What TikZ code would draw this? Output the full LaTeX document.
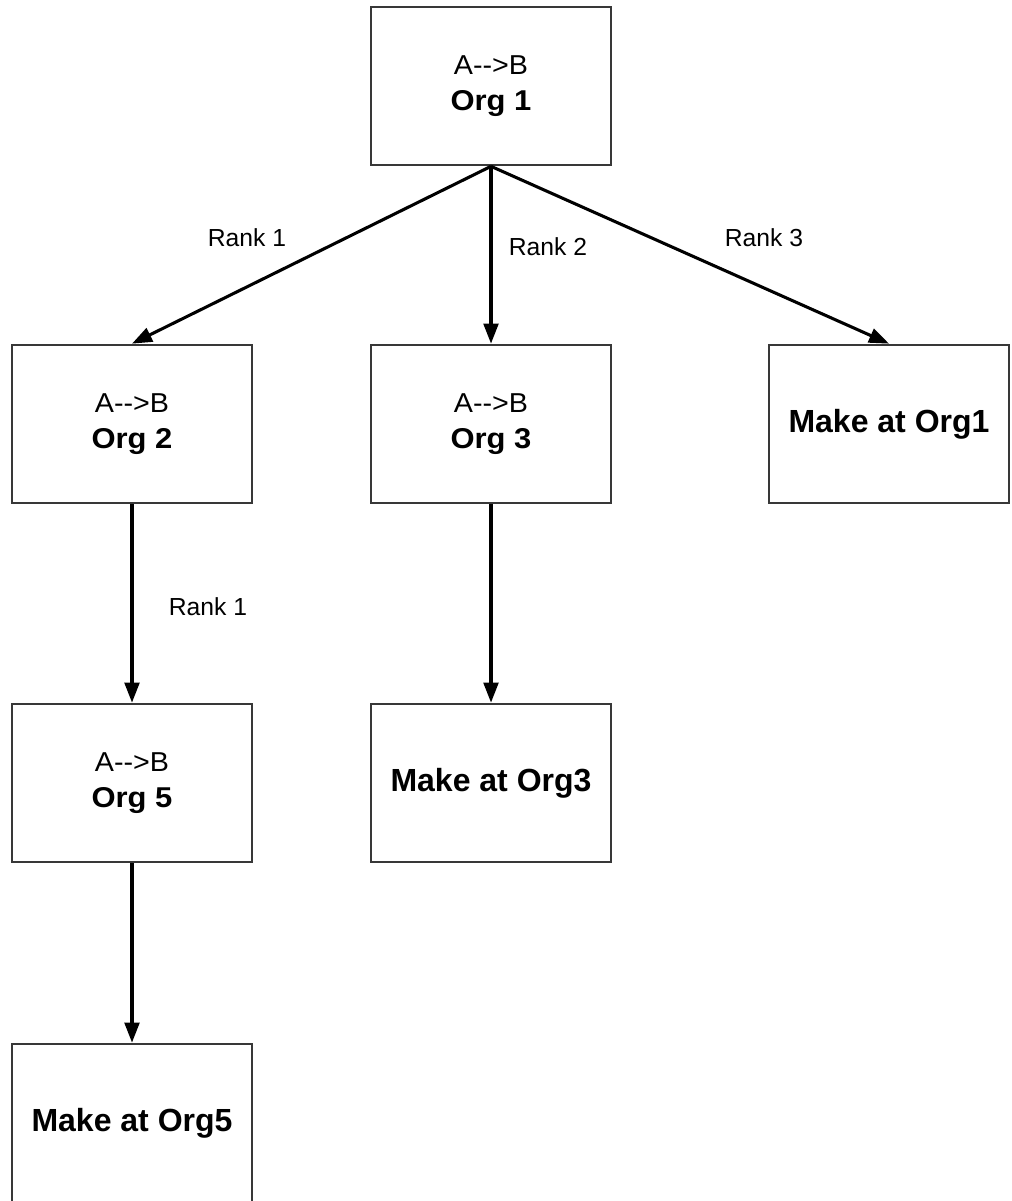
\documentclass[tikz,border=0pt]{standalone}
\usepackage{fontspec}
\setmainfont{Liberation Sans}
\newfontfamily\abfont[FakeStretch=1.05]{Liberation Sans}
\newfontfamily\orgfont[FakeStretch=1.08]{Liberation Sans}
\usetikzlibrary{arrows.meta}

\begin{document}
\begin{tikzpicture}[x=0.75pt, y=-0.75pt,
    orgbox/.style={draw=black!78, line width=1.5pt, fill=white,
        minimum width=180pt, minimum height=119pt, inner sep=0pt,
        align=center},
    twoline/.style={orgbox, font=\fontsize{20.5pt}{26.5pt}\selectfont},
    makebox/.style={orgbox, font=\fontsize{24pt}{28pt}\selectfont\bfseries},
    rank/.style={inner sep=0pt, font=\fontsize{18.5pt}{22pt}\selectfont},
    link/.style={line width=2.3pt, -{Triangle[length=15pt, width=11pt]}}]

  % page frame
  \clip (0,0) rectangle (1011,1201);
  \fill[white] (0,0) rectangle (1011,1201);

  % boxes
  \node[twoline] (o1) at (491,86)  {{\abfont A-{}-{}>B}\\{\orgfont\fontsize{21.5pt}{26.5pt}\selectfont\bfseries Org 1}};
  \node[twoline] (o2) at (132,424) {{\abfont A-{}-{}>B}\\{\orgfont\fontsize{21.5pt}{26.5pt}\selectfont\bfseries Org 2}};
  \node[twoline] (o3) at (491,424) {{\abfont A-{}-{}>B}\\{\orgfont\fontsize{21.5pt}{26.5pt}\selectfont\bfseries Org 3}};
  \node[makebox] (m1) at (889,424) {Make at Org1};
  \node[twoline] (o5) at (132,783) {{\abfont A-{}-{}>B}\\{\orgfont\fontsize{21.5pt}{26.5pt}\selectfont\bfseries Org 5}};
  \node[makebox] (m3) at (491,783) {Make at Org3};
  \node[makebox] (m5) at (132,1123) {Make at Org5};

  % connectors
  \draw[link] (o1.south) -- (o2.north);
  \draw[link] (o1.south) -- (o3.north);
  \draw[link] (o1.south) -- (m1.north);
  \draw[link] (o2.south) -- (o5.north);
  \draw[link] (o3.south) -- (m3.north);
  \draw[link] (o5.south) -- (m5.north);

  % connector labels
  \node[rank] (r1) at (247,238) {Rank 1};
  \node[rank] (r2) at (548,247) {Rank 2};
  \node[rank] (r3) at (764,238) {Rank 3};
  \node[rank] (r5) at (208,607) {Rank 1};
\end{tikzpicture}
\end{document}
